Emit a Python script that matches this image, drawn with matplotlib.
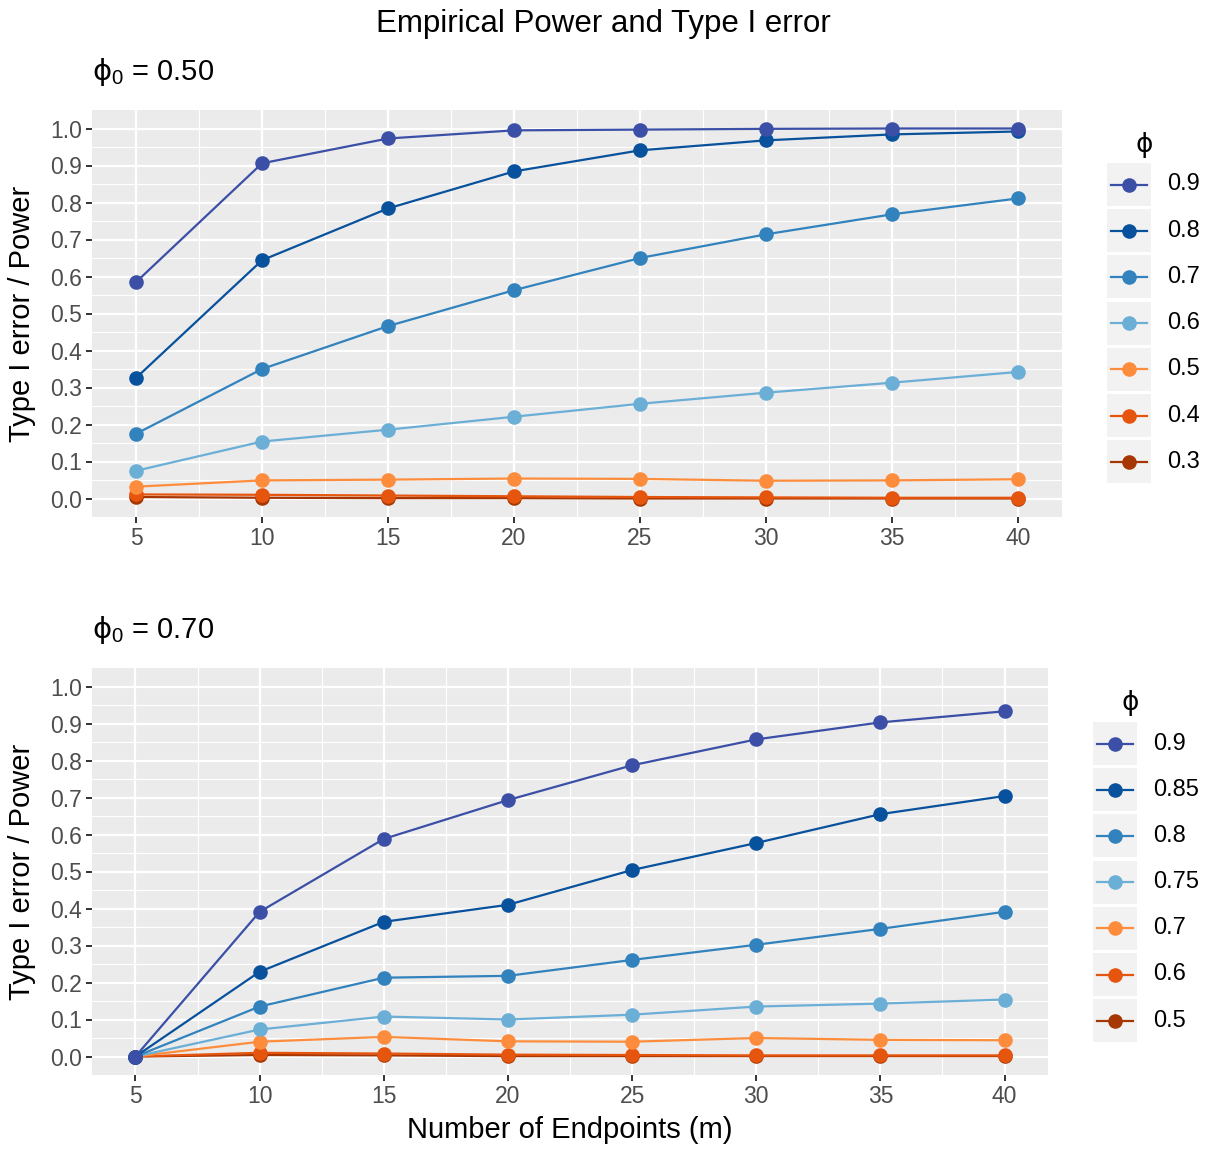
import numpy as np
import matplotlib
matplotlib.use("Agg")
import matplotlib.pyplot as plt
from matplotlib.lines import Line2D
from matplotlib.patches import Rectangle

plt.rcParams['font.family'] = ['Liberation Sans', 'DejaVu Sans']
plt.rcParams['mathtext.fontset'] = 'custom'
plt.rcParams['mathtext.rm'] = 'Liberation Sans'
plt.rcParams['mathtext.it'] = 'DejaVu Sans'
plt.rcParams['mathtext.bf'] = 'Liberation Sans:bold'

m = [5, 10, 15, 20, 25, 30, 35, 40]

# panel 1: phi0 = 0.50
phi_top = ['0.9', '0.8', '0.7', '0.6', '0.5', '0.4', '0.3']
top_vals = {
    '0.9': [0.585, 0.906, 0.973, 0.995, 0.997, 0.999, 1.000, 1.000],
    '0.8': [0.326, 0.644, 0.784, 0.884, 0.941, 0.968, 0.984, 0.992],
    '0.7': [0.175, 0.350, 0.466, 0.563, 0.650, 0.714, 0.768, 0.811],
    '0.6': [0.075, 0.154, 0.186, 0.221, 0.256, 0.286, 0.313, 0.342],
    '0.5': [0.032, 0.049, 0.051, 0.054, 0.053, 0.048, 0.049, 0.052],
    '0.4': [0.011, 0.010, 0.008, 0.006, 0.004, 0.003, 0.002, 0.002],
    '0.3': [0.004, 0.002, 0.001, 0.001, 0.000, 0.000, 0.000, 0.000],
}

# panel 2: phi0 = 0.70
phi_bot = ['0.9', '0.85', '0.8', '0.75', '0.7', '0.6', '0.5']
bot_vals = {
    '0.9':  [0.0, 0.391, 0.588, 0.693, 0.787, 0.857, 0.903, 0.933],
    '0.85': [0.0, 0.229, 0.364, 0.410, 0.504, 0.577, 0.655, 0.704],
    '0.8':  [0.0, 0.135, 0.213, 0.218, 0.261, 0.302, 0.345, 0.391],
    '0.75': [0.0, 0.073, 0.108, 0.100, 0.113, 0.135, 0.143, 0.154],
    '0.7':  [0.0, 0.040, 0.053, 0.041, 0.040, 0.050, 0.045, 0.044],
    '0.6':  [0.0, 0.010, 0.008, 0.005, 0.004, 0.003, 0.003, 0.003],
    '0.5':  [0.0, 0.004, 0.003, 0.001, 0.001, 0.001, 0.001, 0.001],
}

colors = ['#3B4FA6', '#08519C', '#3182BD', '#6BAED6', '#FD8D3C', '#E6550D', '#A63603']

W, H = 1207, 1149
fig = plt.figure(figsize=(W / 100, H / 100), dpi=100)


def fx(px):
    return px / W


def fy(py):
    return 1 - py / H


def panel(left, right, top, bottom, labels, vals, subtitle, xlabel):
    ax = fig.add_axes([fx(left), fy(bottom), fx(right - left), fy(top) - fy(bottom)])
    ax.set_facecolor('#EBEBEB')
    for s in ax.spines.values():
        s.set_visible(False)
    ax.set_xlim(3.25, 41.75)
    ax.set_ylim(-0.05, 1.05)
    ax.set_xticks(m)
    ax.set_yticks(np.round(np.arange(0, 1.01, 0.1), 1))
    ax.set_yticklabels(['%.1f' % v for v in np.arange(0, 1.01, 0.1)])
    ax.set_xticks(np.arange(7.5, 40, 5), minor=True)
    ax.set_yticks(np.arange(0.05, 1.0, 0.1), minor=True)
    ax.grid(which='major', color='white', linewidth=1.6)
    ax.grid(which='minor', color='white', linewidth=0.8)
    ax.set_axisbelow(True)
    ax.tick_params(which='major', length=4, width=1.4, color='#333333',
                   labelsize=16.5, labelcolor='#4D4D4D', pad=3)
    ax.tick_params(which='minor', length=0)
    ax.set_ylabel('Type I error / Power', fontsize=21, color='black')
    ax.yaxis.set_label_coords((22 - left) / (right - left), 0.5)
    if xlabel:
        ax.set_xlabel(xlabel, fontsize=21, color='black')
        ax.xaxis.set_label_coords(0.5, -(1130 - bottom) / (bottom - top))
        ax.xaxis.label.set_va('center')
    ax.yaxis.label.set_va('center')
    for lab, c in reversed(list(zip(labels, colors))):
        ax.plot(m, vals[lab], color=c, linewidth=1.6, marker='o', markersize=10.5,
                markeredgewidth=0, solid_capstyle='butt')
    fig.text(fx(left), fy(top - 38), subtitle, fontsize=21, ha='left', va='center')
    return ax


def legend(labels, box_x, title_x, title_y, first_top, lab_x):
    fig.text(fx(title_x), fy(title_y), r'$\phi$', fontsize=19, ha='center', va='center')
    for i, (lab, c) in enumerate(zip(labels, colors)):
        top = first_top + i * 46.2
        fig.patches.append(Rectangle((fx(box_x), fy(top + 43)), fx(44), fy(top) - fy(top + 43),
                                     transform=fig.transFigure, facecolor='#F2F2F2',
                                     edgecolor='none'))
        yc = fy(top + 21.5)
        fig.lines.append(Line2D([fx(box_x + 4), fx(box_x + 40)], [yc, yc], color=c,
                                linewidth=1.6, transform=fig.transFigure))
        fig.lines.append(Line2D([fx(box_x + 22)], [yc], color=c, marker='o', markersize=10.5,
                                markeredgewidth=0, transform=fig.transFigure))
        fig.text(fx(lab_x), yc, lab, fontsize=17, ha='left', va='center', color='black')


fig.text(0.5, fy(24), 'Empirical Power and Type I error', fontsize=22.5, ha='center', va='center')

panel(92, 1062, 110, 517, phi_top, top_vals, r'$\phi_0$ = 0.50', None)
legend(phi_top, 1107, 1144, 145, 163, 1167)

panel(92, 1048, 668, 1075, phi_bot, bot_vals, r'$\phi_0$ = 0.70', 'Number of Endpoints (m)')
legend(phi_bot, 1093, 1130, 703, 722, 1153)

fig.savefig('out.png', dpi=100)
